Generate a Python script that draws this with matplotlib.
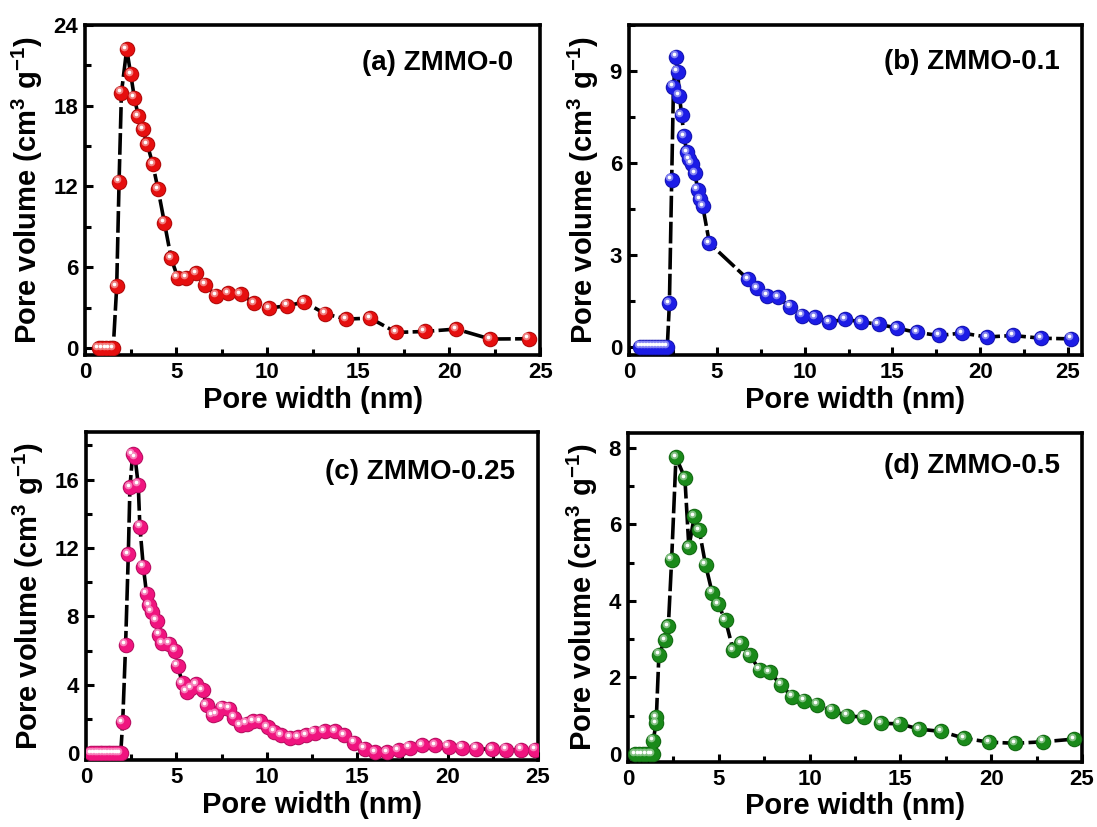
import numpy as np
import matplotlib
matplotlib.use('Agg')
import matplotlib.pyplot as plt
from matplotlib.ticker import MultipleLocator
from matplotlib.transforms import offset_copy
from matplotlib.colors import to_rgb

plt.rcParams['font.family'] = ['Liberation Sans', 'DejaVu Sans']
plt.rcParams['font.weight'] = 'bold'
plt.rcParams['mathtext.fontset'] = 'custom'
plt.rcParams['mathtext.rm'] = 'Liberation Sans'
plt.rcParams['mathtext.bf'] = 'Liberation Sans:bold'

# Pore size distributions (pore width in nm, pore volume in cm3 g-1)
width_a = [0.75, 0.95, 1.15, 1.35, 1.55, 1.74, 1.87, 2.00, 2.29, 2.51, 2.71, 2.93, 3.17, 3.42,
           3.72, 4.01, 4.36, 4.73, 5.09, 5.55, 6.08, 6.59, 7.20, 7.84, 8.55, 9.30, 10.13,
           11.08, 12.05, 13.19, 14.34, 15.66, 17.09, 18.65, 20.38, 22.25, 24.36]
volume_a = [0, 0, 0, 0, 0, 4.57, 12.35, 18.95, 22.19, 20.33, 18.58, 17.22, 16.23, 15.12,
            13.66, 11.79, 9.31, 6.67, 5.23, 5.23, 5.56, 4.69, 3.88, 4.08, 3.99, 3.34, 2.97,
            3.14, 3.41, 2.54, 2.15, 2.22, 1.16, 1.23, 1.41, 0.67, 0.69]

width_b = [0.65, 0.82, 0.99, 1.16, 1.33, 1.50, 1.67, 1.84, 2.01, 2.18, 2.30, 2.43, 2.53, 2.68,
           2.77, 2.87, 3.00, 3.13, 3.29, 3.42, 3.57, 3.76, 3.91, 4.05, 4.20, 4.58, 6.76,
           7.28, 7.85, 8.47, 9.17, 9.84, 10.60, 11.41, 12.31, 13.22, 14.21, 15.25, 16.39,
           17.66, 18.96, 20.38, 21.86, 23.48, 25.19]
volume_b = [0, 0, 0, 0, 0, 0, 0, 0, 0, 0, 1.41, 5.44, 8.48, 9.46,
            8.97, 8.18, 7.55, 6.87, 6.34, 6.12, 5.96, 5.65, 5.11, 4.81, 4.57, 3.37, 2.20,
            1.90, 1.66, 1.61, 1.30, 1.01, 0.96, 0.80, 0.89, 0.80, 0.73, 0.60, 0.46,
            0.36, 0.44, 0.31, 0.36, 0.27, 0.25]

width_c = [0.30, 0.45, 0.60, 0.75, 0.90, 1.05, 1.20, 1.35, 1.50, 1.65, 1.80, 1.92, 2.03, 2.19,
           2.34, 2.43, 2.58, 2.71, 2.89, 2.98, 3.17, 3.35, 3.48, 3.63, 3.90, 4.03, 4.22,
           4.60, 4.92, 5.07, 5.34, 5.56, 5.80, 6.08, 6.45, 6.67, 7.00, 7.18, 7.55, 7.90,
           8.18, 8.55, 8.88, 9.24, 9.61, 10.04, 10.40, 10.81, 11.27, 11.73, 12.19, 12.65,
           13.20, 13.76, 14.27, 14.81, 15.41, 16.00, 16.65, 17.29, 17.90, 18.58, 19.32,
           20.06, 20.81, 21.59, 22.45, 23.24, 24.07, 24.86]
volume_c = [0, 0, 0, 0, 0, 0, 0, 0, 0, 0, 0, 0, 1.82, 6.34,
            11.63, 15.55, 17.47, 17.32, 15.69, 13.24, 10.91, 9.32, 8.65, 8.26, 7.75, 6.92, 6.44,
            6.40, 6.00, 5.10, 4.08, 3.59, 3.79, 4.04, 3.69, 2.81, 2.22, 2.28, 2.67, 2.61,
            2.08, 1.63, 1.73, 1.88, 1.88, 1.53, 1.24, 1.04, 0.90, 0.94, 1.04, 1.20,
            1.29, 1.29, 1.04, 0.61, 0.26, 0.06, 0.06, 0.16, 0.32, 0.45, 0.45,
            0.37, 0.32, 0.26, 0.22, 0.20, 0.20, 0.20]

width_d = [0.40, 0.60, 0.80, 1.00, 1.20, 1.35, 1.39, 1.54, 1.56, 1.70, 2.03, 2.22, 2.40, 2.64,
           3.13, 3.35, 3.65, 3.92, 4.27, 4.63, 4.96, 5.37, 5.79, 6.21, 6.70, 7.25, 7.80,
           8.41, 9.03, 9.69, 10.42, 11.23, 12.07, 12.97, 13.94, 14.95, 16.04, 17.24, 18.52,
           19.89, 21.32, 22.86, 24.56]
volume_d = [0, 0, 0, 0, 0, 0, 0.35, 0.80, 0.96, 2.60, 2.97, 3.34, 5.07, 7.76,
            7.21, 5.40, 6.21, 5.85, 4.94, 4.22, 3.91, 3.49, 2.71, 2.90, 2.58, 2.20, 2.14,
            1.81, 1.50, 1.39, 1.29, 1.13, 1.00, 0.96, 0.80, 0.79, 0.65, 0.59, 0.41,
            0.31, 0.28, 0.32, 0.39]

panels = [
    dict(x=width_a, y=volume_a, color='#e60f0f', label='(a) ZMMO-0',
         pos=[0.0775, 0.571, 0.415, 0.399], xlim=(0, 25), ylim=(-0.5, 24),
         ymaj=6, ymin=3, lab=(0.94, 0.885)),
    dict(x=width_b, y=volume_b, color='#1c1ce6', label='(b) ZMMO-0.1',
         pos=[0.5734, 0.571, 0.413, 0.399], xlim=(0, 25.8), ylim=(-0.27, 10.5),
         ymaj=3, ymin=1.5, lab=(0.951, 0.888)),
    dict(x=width_c, y=volume_c, color='#f0147f', label='(c) ZMMO-0.25',
         pos=[0.0784, 0.081, 0.412, 0.397], xlim=(0, 25), ylim=(-0.4, 18.8),
         ymaj=4, ymin=2, lab=(0.949, 0.878)),
    dict(x=width_d, y=volume_d, color='#1a8a1a', label='(d) ZMMO-0.5',
         pos=[0.5725, 0.079, 0.4139, 0.398], xlim=(0, 25), ylim=(-0.2, 8.4),
         ymaj=2, ymin=1, lab=(0.951, 0.897)),
]


def shade(color, f):
    r, g, b = to_rgb(color)
    if f < 0:
        return (r * (1 + f), g * (1 + f), b * (1 + f))
    return (r + (1 - r) * f, g + (1 - g) * f, b + (1 - b) * f)


fig = plt.figure(figsize=(10.97, 8.27), dpi=100)

for p in panels:
    ax = fig.add_axes(p['pos'])
    ax.plot(p['x'], p['y'], color='black', lw=2.6, ls=(0, (6, 1.2)), zorder=2)
    # shaded balls: dark rim, body, soft glow and a white spot
    ax.scatter(p['x'], p['y'], s=125, color=shade(p['color'], -0.25), lw=0, zorder=3)
    ax.scatter(p['x'], p['y'], s=95, color=p['color'], lw=0, zorder=4)
    hl = offset_copy(ax.transData, fig=fig, x=-1.6, y=1.8, units='points')
    ax.scatter(p['x'], p['y'], s=30, color=shade(p['color'], 0.45), lw=0,
               transform=hl, zorder=5)
    ax.scatter(p['x'], p['y'], s=7, color='white', lw=0, transform=hl, zorder=6)

    ax.set_xlim(*p['xlim'])
    ax.set_ylim(*p['ylim'])
    ax.xaxis.set_major_locator(MultipleLocator(5))
    ax.xaxis.set_minor_locator(MultipleLocator(2.5))
    ax.yaxis.set_major_locator(MultipleLocator(p['ymaj']))
    ax.yaxis.set_minor_locator(MultipleLocator(p['ymin']))
    ax.tick_params(which='both', direction='in', top=False, right=False,
                   width=2.2, labelsize=16, pad=5)
    ax.tick_params(which='major', length=6)
    ax.tick_params(which='minor', length=4)
    for lbl in ax.get_xticklabels() + ax.get_yticklabels():
        lbl.set_fontweight('bold')
    for s in ax.spines.values():
        s.set_linewidth(2.6)

    ax.set_xlabel('Pore width (nm)', fontsize=21, fontweight='bold', labelpad=2)
    ax.set_ylabel(r'Pore volume (cm$^{3}$ g$^{-1}$)', fontsize=21,
                  fontweight='bold', labelpad=6)
    ax.text(p['lab'][0], p['lab'][1], p['label'], transform=ax.transAxes,
            ha='right', va='center', fontsize=20, fontweight='bold')

fig.savefig('out.png', dpi=100)
